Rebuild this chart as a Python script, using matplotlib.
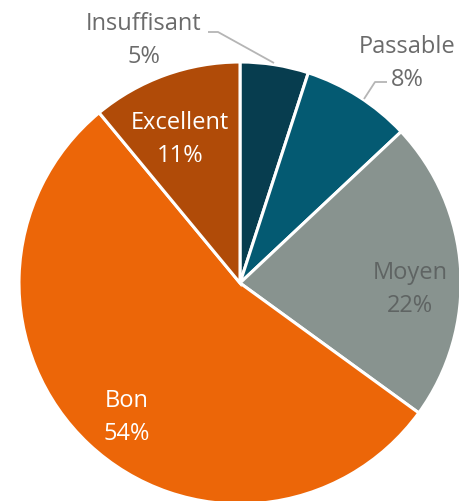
import matplotlib
matplotlib.use("Agg")
import matplotlib.pyplot as plt
import numpy as np

categories = ["Insuffisant", "Passable", "Moyen", "Bon", "Excellent"]
values = [5, 8, 22, 54, 11]
colors = ["#073d4f", "#045a72", "#88938f", "#ec6608", "#b04b08"]
text_colors = ["#6b6b6b", "#6b6b6b", "#5f6463", "#ffffff", "#ffffff"]

W, H = 460, 502
fig = plt.figure(figsize=(W / 100, H / 100), dpi=100)
ax = fig.add_axes([0, 0, 1, 1])

cx, cy, r = 240, H - 284, 221
wedges, _ = ax.pie(values, colors=colors, startangle=90, counterclock=False,
                   center=(cx, cy), radius=r, frame=True,
                   wedgeprops=dict(edgecolor="white", linewidth=2.2))
ax.set_xlim(0, W)
ax.set_ylim(0, H)
ax.set_aspect("equal")
ax.axis("off")

plt.rcParams["font.family"] = ["Open Sans", "DejaVu Sans"]
fs = 17.0

# label positions in pixel coords (x, y of first line center)
label_pos = {
    "Insuffisant": (144, 24),
    "Passable": (407, 47),
    "Moyen": (410, 273),
    "Bon": (127, 401),
    "Excellent": (180, 123),
}
gap = 33
for cat, v, tc in zip(categories, values, text_colors):
    x, y = label_pos[cat]
    ax.text(x, H - y, cat, ha="center", va="center", fontsize=fs, color=tc)
    ax.text(x, H - y - gap, f"{v}%", ha="center", va="center", fontsize=fs, color=tc)

# leader lines
ax.plot([208, 218, 274], [H - 33, H - 33, H - 64], color="#b5b5b5", lw=1.3, solid_capstyle="butt")
ax.plot([364, 375, 387], [H - 100, H - 83, H - 83], color="#b5b5b5", lw=1.3, solid_capstyle="butt")

fig.savefig("out.png", dpi=100)
